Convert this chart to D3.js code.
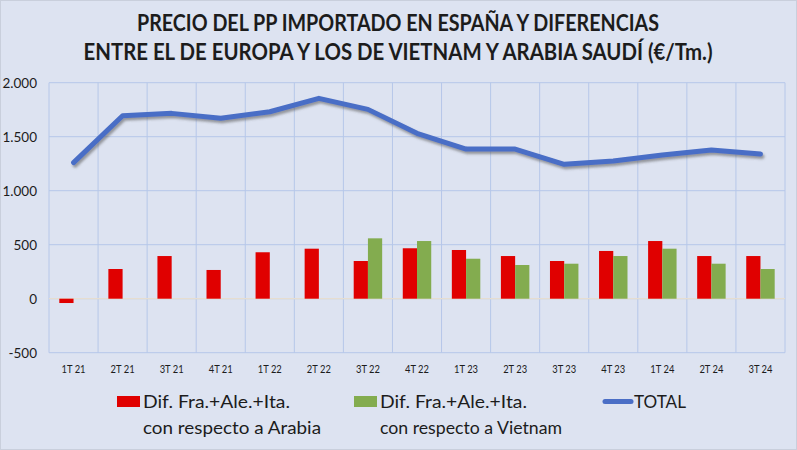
<!DOCTYPE html>
<html>
<head>
<meta charset="utf-8">
<script src="https://cdn.jsdelivr.net/npm/d3@7"></script>
<style>
  html, body { margin: 0; padding: 0; background: #dde3f1; }
  svg { display: block; }
  text { font-family: Lato, "Open Sans", sans-serif; fill: #1c1c1c; }
</style>
</head>
<body>
<div id="viz"></div>
<script>
// datos
const quarters = ["1T 21", "2T 21", "3T 21", "4T 21", "1T 22", "2T 22", "3T 22", "4T 22",
                  "1T 23", "2T 23", "3T 23", "4T 23", "1T 24", "2T 24", "3T 24"];
const difArabia = [-40, 275, 395, 266, 430, 463, 349, 467, 451, 395, 349, 442, 534, 395, 395];
const difVietnam = [null, null, null, null, null, null, 559, 534, 370, 312, 324, 395, 463, 324, 275];
const total = [1260, 1694, 1716, 1670, 1731, 1855, 1753, 1531, 1386, 1386, 1244, 1275, 1331, 1377, 1340];
const yTicks = [-500, 0, 500, 1000, 1500, 2000];
const titleLines = [
    "PRECIO DEL PP IMPORTADO EN ESPAÑA Y DIFERENCIAS",
    "ENTRE EL DE EUROPA Y LOS DE VIETNAM Y ARABIA SAUDÍ (€/Tm.)"
];
const legendArabia = ["Dif. Fra.+Ale.+Ita.", "con respecto a Arabia"];
const legendVietnam = ["Dif. Fra.+Ale.+Ita.", "con respecto a Vietnam"];
const legendTotal = ["TOTAL"];

const W = 797, H = 450;
const plot = { left: 49, right: 785, top: 82.7, bottom: 352.7 };
const RED = "#e00000", GREEN = "#83ac4f", BLUE = "#4a6ec6";

const svg = d3.select("#viz").append("svg")
    .attr("width", W)
    .attr("height", H);

svg.append("rect")
    .attr("width", W)
    .attr("height", H)
    .attr("fill", "#dde3f1");

// sombra de la línea TOTAL
const defs = svg.append("defs");
defs.append("filter")
    .attr("id", "shadow")
    .attr("x", "-10%").attr("y", "-20%")
    .attr("width", "120%").attr("height", "140%")
    .append("feDropShadow")
    .attr("dx", 1.5)
    .attr("dy", 2.5)
    .attr("stdDeviation", 1.3)
    .attr("flood-color", "#555")
    .attr("flood-opacity", 0.55);

const x = d3.scaleBand()
    .domain(quarters)
    .range([plot.left, plot.right]);

const y = d3.scaleLinear()
    .domain([-500, 2000])
    .range([plot.bottom, plot.top]);

const es = d3.formatLocale({ decimal: ",", thousands: ".", grouping: [3], currency: ["", "€"], minus: "-" });
const fmt = es.format(",");

// rejilla
const grid = svg.append("g").attr("stroke", "#b6c7e9").attr("stroke-width", 1);
grid.selectAll("line.h")
    .data(yTicks)
    .join("line")
    .attr("x1", plot.left)
    .attr("x2", plot.right)
    .attr("y1", d => y(d))
    .attr("y2", d => y(d));

const edges = quarters.map(q => x(q)).concat([plot.right]);
grid.selectAll("line.v")
    .data(edges)
    .join("line")
    .attr("x1", d => d)
    .attr("x2", d => d)
    .attr("y1", plot.top)
    .attr("y2", plot.bottom);

// línea del cero
svg.append("line")
    .attr("x1", plot.left)
    .attr("x2", plot.right)
    .attr("y1", y(0))
    .attr("y2", y(0))
    .attr("stroke", "#e6ddd0")
    .attr("stroke-width", 1.2);

// barras
const bw = x.bandwidth() * 0.29;
const mid = q => x(q) + x.bandwidth() / 2;

svg.append("g")
    .selectAll("rect")
    .data(quarters.map((q, i) => ({ q, v: difArabia[i] })))
    .join("rect")
    .attr("x", d => mid(d.q) - bw)
    .attr("y", d => y(Math.max(0, d.v)))
    .attr("width", bw)
    .attr("height", d => Math.abs(y(d.v) - y(0)))
    .attr("fill", RED);

svg.append("g")
    .selectAll("rect")
    .data(quarters.map((q, i) => ({ q, v: difVietnam[i] })).filter(d => d.v != null))
    .join("rect")
    .attr("x", d => mid(d.q))
    .attr("y", d => y(Math.max(0, d.v)))
    .attr("width", bw)
    .attr("height", d => Math.abs(y(d.v) - y(0)))
    .attr("fill", GREEN);

// línea TOTAL
const line = d3.line()
    .x((d, i) => mid(quarters[i]))
    .y(d => y(d));

svg.append("path")
    .datum(total)
    .attr("d", line)
    .attr("fill", "none")
    .attr("stroke", BLUE)
    .attr("stroke-width", 5)
    .attr("stroke-linejoin", "round")
    .attr("stroke-linecap", "round")
    .attr("filter", "url(#shadow)");

// ejes
const yAxis = svg.append("g")
    .attr("transform", `translate(${plot.left - 12},0)`)
    .call(d3.axisLeft(y).tickValues(yTicks).tickFormat(fmt).tickSize(0).tickPadding(0));
yAxis.select(".domain").remove();
yAxis.selectAll("text")
    .attr("font-size", 13.5)
    .attr("font-family", "Lato, sans-serif")
    .attr("fill", "#222");

const xAxis = svg.append("g")
    .attr("transform", `translate(0,${plot.bottom})`)
    .call(d3.axisBottom(x).tickSize(0).tickPadding(12));
xAxis.select(".domain").remove();
xAxis.selectAll("text")
    .attr("font-size", 11.5)
    .attr("font-family", "Lato, sans-serif")
    .attr("fill", "#222")
    .attr("textLength", 24)
    .attr("lengthAdjust", "spacingAndGlyphs");

// título
const titleLen = [522, 629];
const titleY = [31, 60];
svg.append("g")
    .selectAll("text")
    .data(titleLines)
    .join("text")
    .attr("x", 398)
    .attr("y", (d, i) => titleY[i])
    .attr("text-anchor", "middle")
    .attr("font-size", 23)
    .attr("font-weight", "bold")
    .attr("textLength", (d, i) => titleLen[i])
    .attr("lengthAdjust", "spacingAndGlyphs")
    .text(d => d);

// leyenda
function legendText(g, lines, lens) {
    g.selectAll("text")
        .data(lines)
        .join("text")
        .attr("x", 0)
        .attr("y", (d, i) => i * 26)
        .attr("font-size", 18)
        .attr("textLength", (d, i) => lens[i])
        .attr("lengthAdjust", "spacingAndGlyphs")
        .text(d => d);
}

const lg1 = svg.append("g");
lg1.append("rect").attr("x", 117).attr("y", 396).attr("width", 23).attr("height", 11).attr("fill", RED);
legendText(lg1.append("g").attr("transform", "translate(143,408)"), legendArabia, [147, 178]);

const lg2 = svg.append("g");
lg2.append("rect").attr("x", 354).attr("y", 396).attr("width", 23).attr("height", 11).attr("fill", GREEN);
legendText(lg2.append("g").attr("transform", "translate(380,408)"), legendVietnam, [147, 182]);

const lg3 = svg.append("g");
lg3.append("line")
    .attr("x1", 605).attr("x2", 631)
    .attr("y1", 401.5).attr("y2", 401.5)
    .attr("stroke", BLUE)
    .attr("stroke-width", 5)
    .attr("stroke-linecap", "round");
legendText(lg3.append("g").attr("transform", "translate(634,408)"), legendTotal, [52]);

// marco
svg.append("rect")
    .attr("x", 0.5).attr("y", 0.5)
    .attr("width", W - 1).attr("height", H - 1)
    .attr("fill", "none")
    .attr("stroke", "#c9cfdc");
</script>
</body>
</html>
